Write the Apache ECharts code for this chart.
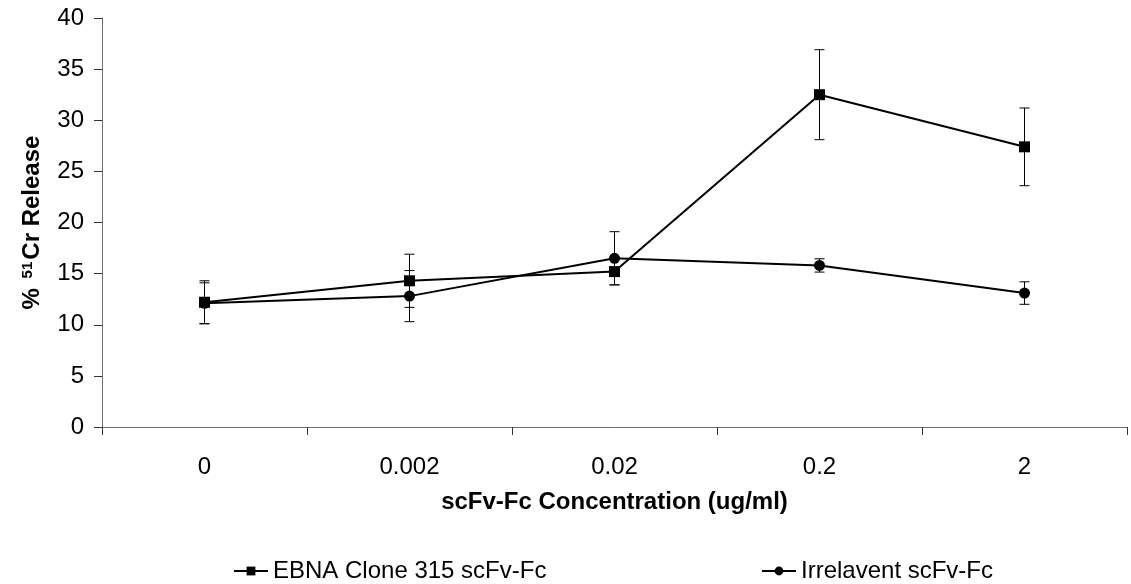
<!DOCTYPE html>
<html>
<head>
<meta charset="utf-8">
<script src="https://cdn.jsdelivr.net/npm/echarts@6/dist/echarts.min.js"></script>
<style>
  html, body { margin: 0; padding: 0; background: #fff; }
  #chart { width: 1131px; height: 584px; }
</style>
</head>
<body>
<div id="chart"></div>
<script>
// Concentrations (ug/ml) on the category axis
const categories = ['0', '0.002', '0.02', '0.2', '2'];
const yTicks = [0, 5, 10, 15, 20, 25, 30, 35, 40];

// % 51Cr release, mean and error per concentration
const ebnaMean = [12.2, 14.3, 15.2, 32.5, 27.4];
const ebnaErr = [2.1, 2.6, 1.3, 4.4, 3.8];
const irrMean = [12.1, 12.8, 16.5, 15.8, 13.1];
const irrErr = [2.0, 2.5, 2.6, 0.65, 1.1];

const ebnaName = 'EBNA Clone 315 scFv-Fc';
const irrName = 'Irrelavent scFv-Fc';

const FONT = 'Liberation Sans, Arial, sans-serif';

function errorData(mean, err) {
  return mean.map((m, i) => [i, m, err[i]]);
}

// Vertical error bar with short horizontal caps
function renderErrorBar(params, api) {
  const x = api.value(0);
  const m = api.value(1);
  const e = api.value(2);
  const top = api.coord([x, m + e]);
  const bot = api.coord([x, m - e]);
  const half = 5;
  const style = { stroke: '#000', lineWidth: 1, fill: null };
  return {
    type: 'group',
    children: [
      { type: 'line', shape: { x1: top[0], y1: top[1], x2: bot[0], y2: bot[1] }, style },
      { type: 'line', shape: { x1: top[0] - half, y1: top[1], x2: top[0] + half, y2: top[1] }, style },
      { type: 'line', shape: { x1: bot[0] - half, y1: bot[1], x2: bot[0] + half, y2: bot[1] }, style }
    ]
  };
}

const chart = echarts.init(document.getElementById('chart'), null, { renderer: 'canvas' });

const legendText = { fontFamily: FONT, fontSize: 24, color: '#000' };

chart.setOption({
  animation: false,
  backgroundColor: '#fff',
  grid: { left: 102, right: 4, top: 18, bottom: 157, containLabel: false },
  legend: [
    {
      data: [ebnaName], left: 228, top: 554, itemWidth: 34, itemHeight: 11,
      textStyle: legendText
    },
    {
      data: [irrName], left: 756, top: 554, itemWidth: 34, itemHeight: 11,
      textStyle: legendText
    }
  ],
  xAxis: {
    type: 'category',
    data: categories,
    boundaryGap: true,
    name: 'scFv-Fc Concentration (ug/ml)',
    nameLocation: 'middle',
    nameGap: 63,
    nameTextStyle: { fontFamily: FONT, fontSize: 24, fontWeight: 'bold', color: '#000' },
    axisLine: { lineStyle: { color: '#707070', width: 1 } },
    axisTick: { show: true, alignWithLabel: false, length: 8, lineStyle: { color: '#333' } },
    axisLabel: { fontFamily: FONT, fontSize: 24, color: '#000', margin: 28 },
    splitLine: { show: false }
  },
  yAxis: {
    type: 'value',
    min: yTicks[0],
    max: yTicks[yTicks.length - 1],
    interval: 5,
    name: '% {sup|51}Cr Release',
    nameLocation: 'middle',
    nameGap: 57,
    nameRotate: 90,
    nameTextStyle: {
      fontFamily: FONT, fontSize: 24, fontWeight: 'bold', color: '#000',
      rich: {
        sup: { fontFamily: FONT, fontSize: 15, fontWeight: 'bold', color: '#000', verticalAlign: 'top', padding: [0, 2, 10, 3] }
      }
    },
    axisLine: { show: true, lineStyle: { color: '#707070', width: 1 } },
    axisTick: { show: true, length: 8, lineStyle: { color: '#333' } },
    axisLabel: { fontFamily: FONT, fontSize: 24, color: '#000', margin: 18 },
    splitLine: { show: false }
  },
  series: [
    {
      type: 'custom',
      renderItem: renderErrorBar,
      data: errorData(ebnaMean, ebnaErr),
      encode: { x: 0, y: 1 },
      z: 1,
      silent: true
    },
    {
      type: 'custom',
      renderItem: renderErrorBar,
      data: errorData(irrMean, irrErr),
      encode: { x: 0, y: 1 },
      z: 1,
      silent: true
    },
    {
      name: irrName,
      type: 'line',
      data: irrMean,
      symbol: 'circle',
      symbolSize: 11,
      lineStyle: { color: '#000', width: 2 },
      itemStyle: { color: '#000' },
      z: 3
    },
    {
      name: ebnaName,
      type: 'line',
      data: ebnaMean,
      symbol: 'rect',
      symbolSize: 11,
      lineStyle: { color: '#000', width: 2 },
      itemStyle: { color: '#000' },
      z: 4
    }
  ]
});
</script>
</body>
</html>
